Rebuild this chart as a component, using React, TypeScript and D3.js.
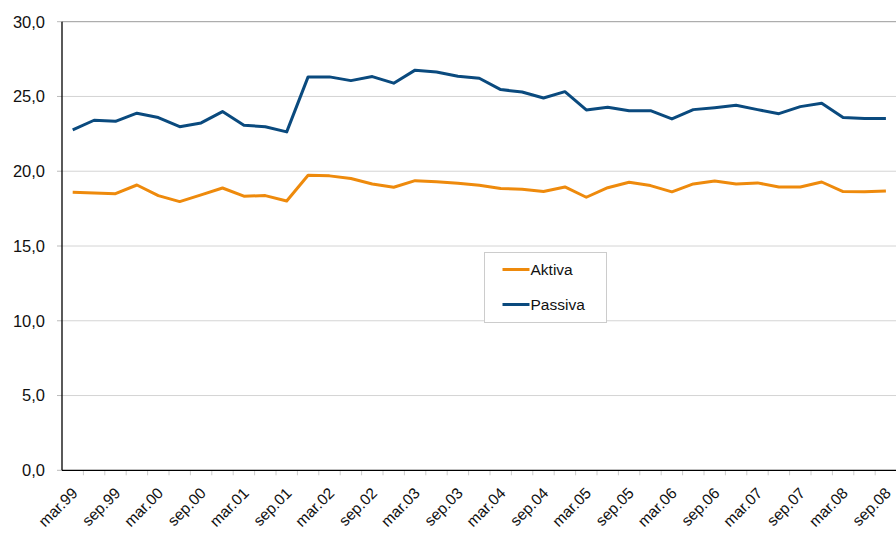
import React, { useRef, useEffect } from "react";
import * as d3 from "d3";

// quarters mar.99 .. sep.08
const months = ["mar", "jun", "sep", "dec"];
const years = ["99", "00", "01", "02", "03", "04", "05", "06", "07", "08"];
const quarters: string[] = [];
years.forEach((y) => months.forEach((m) => quarters.push(`${m}.${y}`)));
quarters.splice(39);

const aktiva = [
  18.59, 18.55, 18.5, 19.08, 18.37, 17.97, 18.42, 18.88, 18.33, 18.37,
  18.01, 19.73, 19.69, 19.51, 19.15, 18.93, 19.37, 19.3, 19.2, 19.06,
  18.84, 18.8, 18.64, 18.95, 18.26, 18.9, 19.26, 19.04, 18.62, 19.15,
  19.35, 19.15, 19.22, 18.95, 18.95, 19.28, 18.64, 18.62, 18.68,
];

const passiva = [
  22.76, 23.41, 23.34, 23.88, 23.59, 22.98, 23.23, 23.99, 23.08, 22.98,
  22.63, 26.31, 26.31, 26.06, 26.33, 25.89, 26.76, 26.64, 26.35, 26.22,
  25.46, 25.3, 24.9, 25.32, 24.1, 24.28, 24.05, 24.05, 23.5, 24.12,
  24.25, 24.41, 24.12, 23.85, 24.32, 24.55, 23.59, 23.52, 23.52,
];

const yTicks = [0, 5, 10, 15, 20, 25, 30];

const series = [
  { name: "Aktiva", values: aktiva, color: "#ee8a0c" },
  { name: "Passiva", values: passiva, color: "#0a4a7e" },
];

const App = () => {
  const ref = useRef<SVGSVGElement>(null);

  useEffect(() => {
    const svg = d3.select(ref.current);
    svg.selectAll("*").remove();

    const left = 62;
    const right = 62 + 21.4 * quarters.length;
    const top = 21.7;
    const bottom = 470.3;
    const font = "'Liberation Sans', Arial, sans-serif";

    const x = d3.scaleBand().domain(quarters).range([left, right]);
    const y = d3.scaleLinear().domain([0, 30]).range([bottom, top]);
    const cx = (q: string) => (x(q) as number) + x.bandwidth() / 2;

    // gridlines
    svg
      .append("g")
      .selectAll("line")
      .data(yTicks.filter((t) => t > 0))
      .join("line")
      .attr("x1", left)
      .attr("x2", right)
      .attr("y1", (d) => y(d))
      .attr("y2", (d) => y(d))
      .attr("stroke", (d) => (d === 30 ? "#9a9a9a" : "#d4d4d4"))
      .attr("stroke-width", 1);

    // y ticks + labels
    const yg = svg.append("g");
    yg.selectAll("line")
      .data(yTicks)
      .join("line")
      .attr("x1", left - 5)
      .attr("x2", left)
      .attr("y1", (d) => y(d))
      .attr("y2", (d) => y(d))
      .attr("stroke", "#bbb");
    yg.selectAll("text")
      .data(yTicks)
      .join("text")
      .attr("x", 45)
      .attr("y", (d) => y(d))
      .attr("dy", "0.36em")
      .attr("text-anchor", "end")
      .attr("font-family", font)
      .attr("font-size", 16.5)
      .attr("fill", "#111")
      .text((d) => d3.format(".1f")(d).replace(".", ","));

    // x tick marks at category boundaries
    svg
      .append("g")
      .selectAll("line")
      .data(quarters.slice(1))
      .join("line")
      .attr("x1", (d) => x(d) as number)
      .attr("x2", (d) => x(d) as number)
      .attr("y1", bottom)
      .attr("y2", bottom + 5)
      .attr("stroke", "#ccc");

    // x labels
    svg
      .append("g")
      .selectAll("text")
      .data(quarters.filter((_, i) => i % 2 === 0))
      .join("text")
      .attr("transform", (d) => `translate(${cx(d) + 2},${bottom + 20}) rotate(-45)`)
      .attr("text-anchor", "end")
      .attr("dy", "0.35em")
      .attr("font-family", font)
      .attr("font-size", 15.5)
      .attr("fill", "#111")
      .text((d) => d);

    // axes
    svg
      .append("line")
      .attr("x1", left)
      .attr("x2", left)
      .attr("y1", top)
      .attr("y2", bottom)
      .attr("stroke", "#000")
      .attr("stroke-width", 1.3);
    svg
      .append("line")
      .attr("x1", left)
      .attr("x2", right)
      .attr("y1", bottom)
      .attr("y2", bottom)
      .attr("stroke", "#000")
      .attr("stroke-width", 1.3);

    // lines
    const line = d3
      .line<number>()
      .x((_, i) => cx(quarters[i]))
      .y((d) => y(d));
    series.forEach((s) => {
      svg
        .append("path")
        .datum(s.values)
        .attr("d", line)
        .attr("fill", "none")
        .attr("stroke", s.color)
        .attr("stroke-width", 3)
        .attr("stroke-linejoin", "round");
    });

    // legend
    const lg = svg.append("g").attr("transform", "translate(484.5,252.5)");
    lg.append("rect")
      .attr("width", 122)
      .attr("height", 70)
      .attr("fill", "#fff")
      .attr("stroke", "#ccc");
    series.forEach((s, i) => {
      const ly = 17 + i * 35;
      lg.append("line")
        .attr("x1", 18)
        .attr("x2", 45)
        .attr("y1", ly)
        .attr("y2", ly)
        .attr("stroke", s.color)
        .attr("stroke-width", 3);
      lg.append("text")
        .attr("x", 46)
        .attr("y", ly)
        .attr("dy", "0.36em")
        .attr("font-family", font)
        .attr("font-size", 15.5)
        .attr("fill", "#111")
        .text(s.name);
    });
  }, []);

  return (
    <div>
      <svg
        ref={ref}
        width={896}
        height={535}
        style={{ position: "absolute", left: 0, top: 0, background: "#fff" }}
      ></svg>
    </div>
  );
};

export default App;
